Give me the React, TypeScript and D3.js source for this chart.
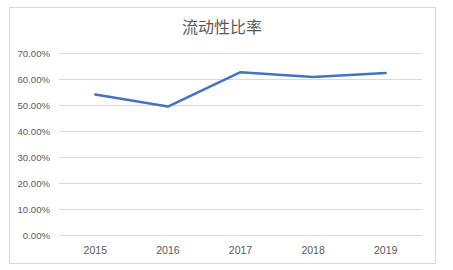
import React from "react";
import * as d3 from "d3";

const categories = ["2015", "2016", "2017", "2018", "2019"];
const values = [0.540, 0.494, 0.626, 0.608, 0.623];
const yTicks = [0, 0.1, 0.2, 0.3, 0.4, 0.5, 0.6, 0.7];
const title = "流动性比率";

export default function App() {
  const W = 453, H = 270;
  const x = d3.scaleBand<string>().domain(categories).range([59, 422]);
  const y = d3.scaleLinear().domain([0, 0.7]).range([235, 53]);
  const line = d3.line<number>()
    .x((_, i) => (x(categories[i]) as number) + x.bandwidth() / 2)
    .y((d) => y(d));
  const font = "'Liberation Sans', Arial, sans-serif";
  return (
    <svg width={W} height={H} style={{ position: "absolute", left: 0, top: 0 }}>
      <rect x={0} y={0} width={W} height={H} fill="#fff" />
      <rect x={9.5} y={7.5} width={426} height={256} fill="#fff" stroke="#d9d9d9" />
      <text x={222} y={33} textAnchor="middle" fontSize={16} fill="#595959"
        fontFamily="'Noto Sans CJK SC', sans-serif">{title}</text>
      {yTicks.map((t) => (
        <g key={t}>
          <line x1={59} x2={422} y1={Math.round(y(t)) + 0.5} y2={Math.round(y(t)) + 0.5} stroke="#d9d9d9" />
          <text x={50} y={y(t) + 3.5} textAnchor="end" fontSize={9.6} fill="#595959" fontFamily={font}>
            {(t * 100).toFixed(2) + "%"}
          </text>
        </g>
      ))}
      {categories.map((c) => (
        <text key={c} x={(x(c) as number) + x.bandwidth() / 2} y={253.5} textAnchor="middle"
          fontSize={10.5} fill="#595959" fontFamily={font}>{c}</text>
      ))}
      <path d={line(values) || ""} fill="none" stroke="#4472c4" strokeWidth={2.5} strokeLinecap="round" strokeLinejoin="round" />
    </svg>
  );
}
